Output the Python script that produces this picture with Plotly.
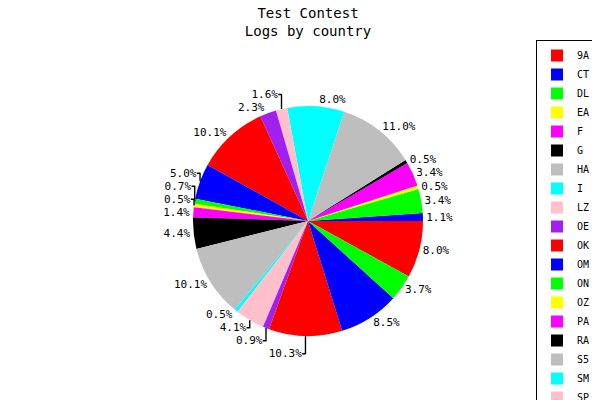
import plotly.graph_objects as go

countries = ["9A", "CT", "DL", "EA", "F", "G", "HA", "I", "LZ", "OE", "OK", "OM",
             "ON", "OZ", "PA", "RA", "S5", "SM", "SP", "T9", "UR", "UT", "YO"]
shares = [8.0, 1.1, 3.4, 0.5, 3.4, 0.5, 11.0, 8.0, 1.6, 2.3, 10.1, 5.0,
          0.7, 0.5, 1.4, 4.4, 10.1, 0.5, 4.1, 0.9, 10.3, 8.5, 3.7]
palette = ["#ff0000", "#0000ff", "#00ff00", "#ffff00", "#ff00ff", "#000000",
           "#bebebe", "#00ffff", "#ffc0cb", "#a020f0"]
colors = [palette[i % len(palette)] for i in range(len(countries))]

font = "DejaVu Sans Mono"

fig = go.Figure(go.Pie(
    labels=countries,
    values=shares,
    sort=False,
    direction="counterclockwise",
    rotation=90,
    marker=dict(colors=colors, line=dict(width=0)),
    textposition="outside",
    texttemplate="%{percent:.1%}",
    textfont=dict(family=font, size=11, color="black"),
    hoverinfo="label+percent",
    domain=dict(x=[0.3083, 0.6917], y=[0.18, 0.755]),
    showlegend=True,
))

fig.update_layout(
    width=600, height=400,
    margin=dict(l=0, r=0, t=0, b=0),
    paper_bgcolor="white",
    plot_bgcolor="white",
    title=dict(text="Test Contest<br>Logs by country", x=0.5, xanchor="center",
               y=0.975, yanchor="top",
               font=dict(family=font, size=14, color="black")),
    legend=dict(x=0.88, xanchor="left", y=0.92, yanchor="top",
                bordercolor="black", borderwidth=1, bgcolor="white",
                font=dict(family=font, size=10, color="black"),
                itemwidth=30, maxheight=362),
)

fig.write_html("out.html")
